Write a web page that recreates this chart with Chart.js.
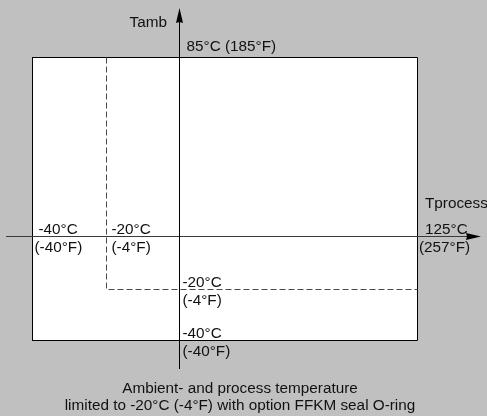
<!DOCTYPE html>
<html>
<head>
<meta charset="utf-8">
<script src="https://cdn.jsdelivr.net/npm/chart.js@4.4.1/dist/chart.umd.min.js"></script>
<style>
  html, body { margin: 0; padding: 0; background: #c0c0c0; }
  canvas { display: block; }
</style>
</head>
<body>
<canvas id="tempChart" width="487" height="416"></canvas>
<script>
// Process temperature (x) and ambient temperature (y) limits, °C with °F equivalents
const processTempC = [-40, -20, 125];
const processTempF = [-40, -4, 257];
const ambientTempC = [-40, -20, 85];
const ambientTempF = [-40, -4, 185];
const ffkmLimitC = -20;

const processTitle = 'Tprocess';
const ambientTitle = 'Tamb';
const caption = [
    'Ambient- and process temperature',
    'limited to -20°C (-4°F) with option FFKM seal O-ring'
];

const xMin = Math.min(...processTempC), xMax = Math.max(...processTempC);
const yMin = Math.min(...ambientTempC), yMax = Math.max(...ambientTempC);

// Schematic (non-proportional) axis: value -> pixel stops
const LinearScale = Chart.registry.getScale('linear');
class BrokenScale extends LinearScale {
    _stops() {
        return [...this.options.stops].sort((a, b) => a[0] - b[0]);
    }
    getPixelForValue(value) {
        const s = this._stops();
        let i = 1;
        while (i < s.length - 1 && value > s[i][0]) i++;
        const [v0, p0] = s[i - 1], [v1, p1] = s[i];
        const px = p0 + (value - v0) * (p1 - p0) / (v1 - v0);
        return (this.isHorizontal() ? this.left : this.top) + px;
    }
    getValueForPixel(pixel) {
        const s = this._stops();
        const p = pixel - (this.isHorizontal() ? this.left : this.top);
        let i = 1;
        while (i < s.length - 1 && ((s[i][1] - s[i - 1][1]) > 0 ? p > s[i][1] : p < s[i][1])) i++;
        const [v0, p0] = s[i - 1], [v1, p1] = s[i];
        return v0 + (p - p0) * (v1 - v0) / (p1 - p0);
    }
}
BrokenScale.id = 'broken';
BrokenScale.defaults = LinearScale.defaults;
Chart.register(BrokenScale);

const FONT = '15.3px "Liberation Sans", Arial, sans-serif';
const INK = '#111';

// Axis lines with arrows + all the text labels
const diagramPlugin = {
    id: 'diagram',
    afterDatasetsDraw(chart) {
        const { ctx, scales: { x, y } } = chart;
        const x0 = x.getPixelForValue(0);
        const y0 = y.getPixelForValue(0);
        ctx.save();
        ctx.lineWidth = 1;

        // horizontal axis
        ctx.strokeStyle = '#3a3a3a';
        ctx.fillStyle = '#000';
        ctx.beginPath();
        ctx.moveTo(6, y0);
        ctx.lineTo(470, y0);
        ctx.stroke();
        ctx.beginPath();
        ctx.moveTo(481, y0);
        ctx.lineTo(466, y0 - 3.5);
        ctx.lineTo(467, y0);
        ctx.lineTo(466, y0 + 3.5);
        ctx.closePath();
        ctx.fill();

        // vertical axis
        ctx.strokeStyle = '#000';
        ctx.beginPath();
        ctx.moveTo(x0, 369);
        ctx.lineTo(x0, 20);
        ctx.stroke();
        ctx.beginPath();
        ctx.moveTo(x0, 8);
        ctx.lineTo(x0 - 3.5, 23);
        ctx.lineTo(x0, 22);
        ctx.lineTo(x0 + 3.5, 23);
        ctx.closePath();
        ctx.fill();

        ctx.font = FONT;
        ctx.fillStyle = INK;
        ctx.textBaseline = 'alphabetic';

        // axis titles
        ctx.textAlign = 'right';
        ctx.fillText(ambientTitle, x0 - 12.5, 27);
        ctx.textAlign = 'left';
        ctx.fillText(processTitle, x.getPixelForValue(xMax) + 7.5, 208);

        // process temperature labels along the horizontal axis
        const xOff = { '-40': [6, 2], '-20': [5, 5], '125': [7.5, 1.5] };
        processTempC.forEach((c, i) => {
            const px = x.getPixelForValue(c);
            const [oc, of] = xOff[c];
            ctx.fillText(`${c}°C`, px + oc, y0 - 3);
            ctx.fillText(`(${processTempF[i]}°F)`, px + of, y0 + 15.5);
        });

        // ambient temperature labels along the vertical axis
        ambientTempC.forEach((c, i) => {
            const py = y.getPixelForValue(c);
            if (c === yMax) {
                ctx.fillText(`${c}°C (${ambientTempF[i]}°F)`, x0 + 7, py - 6.5);
            } else {
                ctx.fillText(`${c}°C`, x0 + 3, py - 2.5);
                ctx.fillText(`(${ambientTempF[i]}°F)`, x0 + 3, py + 15.5);
            }
        });

        // caption
        ctx.textAlign = 'center';
        ctx.fillText(caption[0], 240, 392.5);
        ctx.fillText(caption[1], 240, 410);
        ctx.restore();
    }
};

const ctx = document.getElementById('tempChart').getContext('2d');

new Chart(ctx, {
    type: 'scatter',
    data: {
        datasets: [
            {
                // FFKM limit (dashed)
                data: [
                    { x: ffkmLimitC, y: yMax },
                    { x: ffkmLimitC, y: ffkmLimitC },
                    { x: xMax, y: ffkmLimitC }
                ],
                showLine: true,
                borderColor: '#4a4a4a',
                borderWidth: 1,
                borderDash: [6, 3],
                pointRadius: 0,
                fill: false,
                order: 1
            },
            {
                // full operating range
                data: [
                    { x: xMin, y: yMin },
                    { x: xMax, y: yMin },
                    { x: xMax, y: yMax },
                    { x: xMin, y: yMax },
                    { x: xMin, y: yMin }
                ],
                showLine: true,
                borderColor: '#000',
                borderWidth: 1,
                backgroundColor: '#fff',
                pointRadius: 0,
                fill: 'shape',
                order: 2
            }
        ]
    },
    options: {
        responsive: false,
        animation: false,
        devicePixelRatio: 1,
        layout: { padding: 0 },
        plugins: {
            legend: { display: false },
            tooltip: { enabled: false }
        },
        events: [],
        scales: {
            x: {
                type: 'broken',
                display: false,
                min: xMin, max: xMax,
                stops: [[-40, 32.5], [-20, 106.5], [0, 179.5], [125, 417.5]]
            },
            y: {
                type: 'broken',
                display: false,
                min: yMin, max: yMax,
                stops: [[-40, 340.5], [-20, 289.5], [0, 236.5], [85, 57.5]]
            }
        }
    },
    plugins: [diagramPlugin]
});
</script>
</body>
</html>
